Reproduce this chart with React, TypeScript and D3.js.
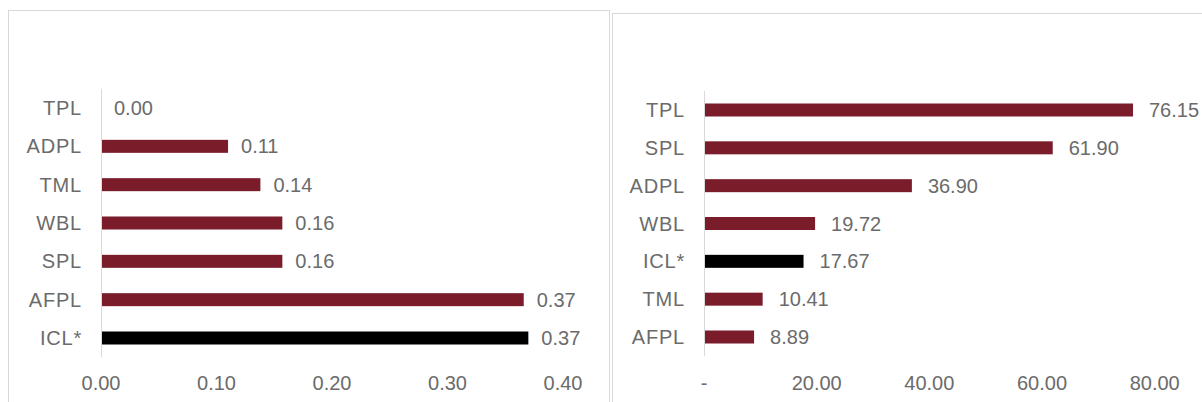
import React from "react";
import * as d3 from "d3";

// Left panel: ratio values
const leftCategories = ["TPL", "ADPL", "TML", "WBL", "SPL", "AFPL", "ICL*"];
const leftValues = [0.0, 0.11, 0.138, 0.157, 0.157, 0.366, 0.37];
const leftTicks = [0, 0.1, 0.2, 0.3, 0.4];
const leftTickLabels = ["0.00", "0.10", "0.20", "0.30", "0.40"];

// Right panel: days values
const rightCategories = ["TPL", "SPL", "ADPL", "WBL", "ICL*", "TML", "AFPL"];
const rightValues = [76.15, 61.9, 36.9, 19.72, 17.67, 10.41, 8.89];
const rightTicks = [0, 20, 40, 60, 80];
const rightTickLabels = ["-", "20.00", "40.00", "60.00", "80.00"];

const highlight = "ICL*";
const MAROON = "#7a1c2a";
const TEXT = "#6b6b6b";
const BORDER = "#d9d9d9";
const FONT = "'Liberation Sans', Arial, sans-serif";
const FONT_SIZE = 20;

type PanelProps = {
  categories: string[];
  values: number[];
  ticks: number[];
  tickLabels: string[];
  xDomain: [number, number];
  xRange: [number, number];
  yRange: [number, number];
  labelGap: number;
  tickY: number;
  frame: { x: number; y: number; w: number; h: number };
};

function Panel(p: PanelProps) {
  const x = d3.scaleLinear().domain(p.xDomain).range(p.xRange);
  const y = d3.scalePoint<string>().domain(p.categories).range(p.yRange);
  const step = y.step();
  const barH = 13;
  const fmt = d3.format(".2f");
  const x0 = x(0);
  return (
    <g>
      <rect
        x={p.frame.x + 0.5}
        y={p.frame.y + 0.5}
        width={p.frame.w}
        height={p.frame.h}
        fill="#fff"
        stroke={BORDER}
        strokeWidth={1}
      />
      {p.categories.map((c, i) => {
        const cy = y(c)!;
        const v = p.values[i];
        const xe = x(v);
        return (
          <g key={c}>
            <text
              x={x0 - 19}
              y={cy}
              dy="0.35em"
              textAnchor="end"
              fontFamily={FONT}
              fontSize={FONT_SIZE}
              letterSpacing={0.8}
              fill={TEXT}
            >
              {c}
            </text>
            {v > 0 && (
              <rect
                x={x0}
                y={cy - barH / 2}
                width={xe - x0}
                height={barH}
                fill={c === highlight ? "#000" : MAROON}
              />
            )}
            <text
              x={xe + p.labelGap}
              y={cy}
              dy="0.35em"
              fontFamily={FONT}
              fontSize={FONT_SIZE}
              fill={TEXT}
            >
              {fmt(v)}
            </text>
          </g>
        );
      })}
      <line
        x1={Math.round(x0) + 0.5}
        x2={Math.round(x0) + 0.5}
        y1={p.yRange[0] - step / 2}
        y2={p.yRange[1] + step / 2}
        stroke={BORDER}
        strokeWidth={1}
      />
      {p.ticks.map((t, i) => (
        <text
          key={t}
          x={x(t)}
          y={p.tickY}
          dy="0.35em"
          textAnchor="middle"
          fontFamily={FONT}
          fontSize={FONT_SIZE}
          fill={TEXT}
        >
          {p.tickLabels[i]}
        </text>
      ))}
    </g>
  );
}

export default function App() {
  return (
    <div style={{ position: "absolute", left: 0, top: 0 }}>
      <svg width={1202} height={402} style={{ display: "block", background: "#fff" }}>
        <Panel
          categories={leftCategories}
          values={leftValues}
          ticks={leftTicks}
          tickLabels={leftTickLabels}
          xDomain={[0, 0.4]}
          xRange={[101, 563]}
          yRange={[108, 338]}
          labelGap={13}
          tickY={383}
          frame={{ x: 8, y: 10, w: 601, h: 420 }}
        />
        <Panel
          categories={rightCategories}
          values={rightValues}
          ticks={rightTicks}
          tickLabels={rightTickLabels}
          xDomain={[0, 80]}
          xRange={[704, 1154.7]}
          yRange={[110, 337]}
          labelGap={16}
          tickY={383}
          frame={{ x: 612, y: 13, w: 620, h: 420 }}
        />
      </svg>
    </div>
  );
}
